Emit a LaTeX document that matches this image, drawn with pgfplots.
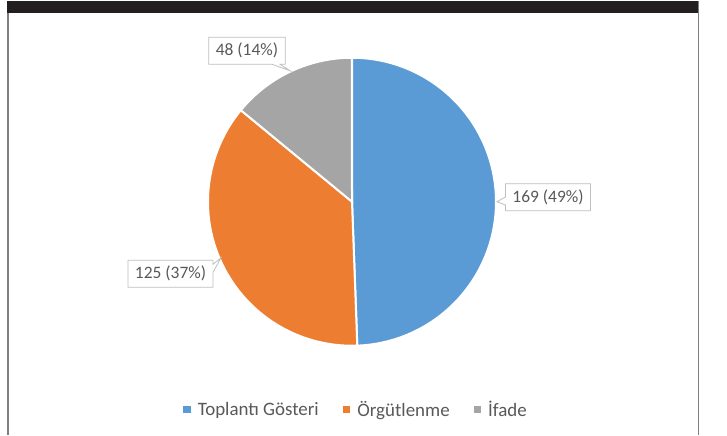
\documentclass[border=0pt]{standalone}
\usepackage{pgfplots}
\pgfplotsset{compat=1.18}
\usepackage{fontspec}
\setmainfont{Carlito}
\usetikzlibrary{shapes.callouts}
\definecolor{cblue}{HTML}{5B9BD5}
\definecolor{corange}{HTML}{ED7D31}
\definecolor{cgray}{HTML}{A5A5A5}
\definecolor{ctext}{HTML}{595959}
\definecolor{cbox}{HTML}{BFBFBF}
\definecolor{cband}{HTML}{231F20}
\definecolor{cframe}{HTML}{7F7F7F}
\tikzset{callbox/.style={rectangle callout, draw=cbox, fill=white, line width=0.8bp,
    text=ctext, font=\fontsize{17.5}{20}\selectfont, inner xsep=7bp, inner ysep=4bp,
    minimum height=27bp, callout pointer width=8bp}}
% data
\def\va{169}\def\vb{125}\def\vc{48}
\begin{document}
\begin{tikzpicture}
\pgfmathsetmacro{\tot}{\va+\vb+\vc}
\pgfmathsetmacro{\aA}{90-360*(\va/\tot)}
\pgfmathsetmacro{\aB}{\aA-360*(\vb/\tot)}
\pgfmathsetmacro{\aC}{\aB-360*(\vc/\tot)}
\fill[white] (0,0) rectangle (727bp,434bp);
\begin{axis}[at={(0,0)}, anchor=south west, scale only axis, x=144bp, y=144bp,
  xmin=-2.4444, xmax=2.6042, ymin=-1.6181, ymax=1.3958, hide axis, clip=false,
  legend columns=3,
  legend style={at={(0.4897,0.0576)}, anchor=center, draw=none, fill=none,
    font=\fontsize{19}{21}\selectfont, text=ctext,
    /tikz/every even column/.append style={column sep=22bp}},
  legend image code/.code={\fill[#1, draw=none] (0bp,-3.5bp) rectangle (7.5bp,4bp); \path[draw=none, fill=none] (0bp,0bp) -- (12.5bp,0bp);}]
\addplot[fill=cblue, draw=white, line width=2bp, domain=\aA:90, samples=120, forget plot]
  ({cos(x)},{sin(x)}) -- (axis cs:0,0) -- cycle;
\addplot[fill=corange, draw=white, line width=2bp, domain=\aB:\aA, samples=120, forget plot]
  ({cos(x)},{sin(x)}) -- (axis cs:0,0) -- cycle;
\addplot[fill=cgray, draw=white, line width=2bp, domain=\aC:\aB, samples=80, forget plot]
  ({cos(x)},{sin(x)}) -- (axis cs:0,0) -- cycle;
\addlegendimage{fill=cblue}\addlegendentry{Toplantı Gösteri}
\addlegendimage{fill=corange}\addlegendentry{Örgütlenme}
\addlegendimage{fill=cgray}\addlegendentry{İfade}
\node[callbox, callout absolute pointer={(axis cs:1.0069,0)}] at (axis cs:1.3611,0.0313) {169 (49\%)};
\node[callbox, callout absolute pointer={(axis cs:-0.4306,0.9097)}] at (axis cs:-0.7292,1.0486) {48 (14\%)};
\node[callbox, callout absolute pointer={(axis cs:-0.9097,-0.3889)}] at (axis cs:-1.2604,-0.5) {125 (37\%)};
\end{axis}
\fill[cband] (7bp,434bp) rectangle (699bp,421.5bp);
\draw[cframe, line width=1.5bp] (7.75bp,0) -- (7.75bp,421.5bp);
\draw[cframe, line width=1.5bp] (698.25bp,0) -- (698.25bp,434bp);
\end{tikzpicture}
\end{document}
